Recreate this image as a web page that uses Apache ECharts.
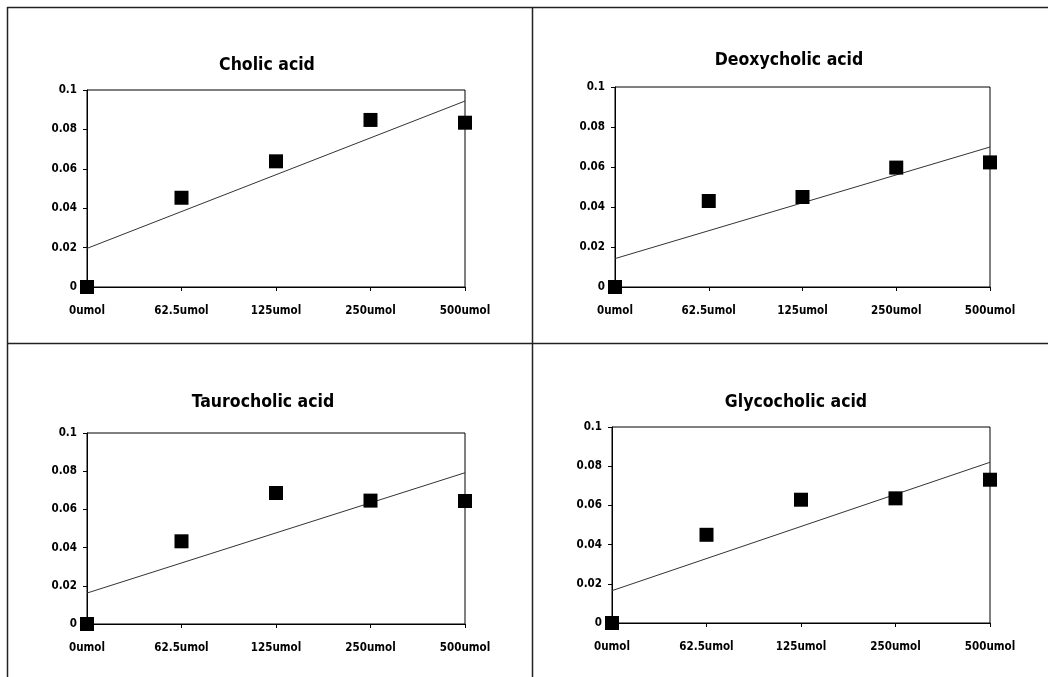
<!DOCTYPE html>
<html>
<head>
<meta charset="utf-8">
<script src="https://cdn.jsdelivr.net/npm/echarts@6/dist/echarts.min.js"></script>
<style>
html,body{margin:0;padding:0;background:#fff;}
#chart{width:1048px;height:677px;}
</style>
</head>
<body>
<div id="chart"></div>
<script>
// ---- data ----
const categories = ['0umol', '62.5umol', '125umol', '250umol', '500umol'];
const titles = ['Cholic acid', 'Deoxycholic acid', 'Taurocholic acid', 'Glycocholic acid'];
const cholic = [0, 0.0453, 0.0638, 0.0848, 0.0834];
const deoxycholic = [0, 0.043, 0.045, 0.0597, 0.0623];
const taurocholic = [0, 0.0433, 0.0686, 0.0646, 0.0644];
const glycocholic = [0, 0.045, 0.0629, 0.0636, 0.0731];
// trend line values at first and last category
const cholicTrend = [0.0196, 0.0944];
const deoxycholicTrend = [0.0142, 0.070];
const taurocholicTrend = [0.0162, 0.0792];
const glycocholicTrend = [0.0165, 0.082];
const yTicks = [0, 0.02, 0.04, 0.06, 0.08, 0.1];

const seriesValues = [cholic, deoxycholic, taurocholic, glycocholic];
const trends = [cholicTrend, deoxycholicTrend, taurocholicTrend, glycocholicTrend];

// ---- layout ----
const grids = [
  {left: 87, top: 90, width: 378, height: 197},
  {left: 615, top: 87, width: 375, height: 200},
  {left: 87, top: 433, width: 378, height: 191},
  {left: 612, top: 427, width: 378, height: 196}
];
const titlePos = [
  {x: 262, y: 51},
  {x: 784, y: 46},
  {x: 258, y: 388},
  {x: 791, y: 388}
];
const FONT = '"DejaVu Sans Condensed", "Liberation Sans Narrow", "DejaVu Sans", sans-serif';

const chart = echarts.init(document.getElementById('chart'), null, {renderer: 'canvas'});

const option = {
  backgroundColor: '#fff',
  animation: false,
  title: titles.map((t, i) => ({
    text: t,
    left: titlePos[i].x,
    top: titlePos[i].y,
    textAlign: 'center',
    textStyle: {fontFamily: FONT, fontWeight: 'bold', fontSize: 17.5, color: '#000'}
  })),
  grid: grids.map(g => Object.assign({show: true, borderColor: '#000', borderWidth: 1, backgroundColor: 'transparent'}, g)),
  xAxis: grids.map((g, i) => ({
    type: 'category',
    gridIndex: i,
    data: categories,
    boundaryGap: false,
    axisLine: {show: true, lineStyle: {color: '#000', width: 1}},
    axisTick: {show: true, length: 4, lineStyle: {color: '#000'}},
    axisLabel: {fontFamily: FONT, fontWeight: 'bold', fontSize: 11.5, color: '#000', margin: 18},
    splitLine: {show: false}
  })),
  yAxis: grids.map((g, i) => ({
    type: 'value',
    gridIndex: i,
    min: yTicks[0],
    max: yTicks[yTicks.length - 1],
    interval: 0.02,
    axisLine: {show: true, lineStyle: {color: '#000', width: 1}},
    axisTick: {show: true, length: 4, lineStyle: {color: '#000'}},
    axisLabel: {fontFamily: FONT, fontWeight: 'bold', fontSize: 11.5, color: '#000', margin: 10},
    splitLine: {show: false}
  })),
  series: [].concat(
    trends.map((tr, i) => ({
      type: 'line',
      xAxisIndex: i,
      yAxisIndex: i,
      data: [[categories[0], tr[0]], [categories[categories.length - 1], tr[1]]],
      symbol: 'none',
      lineStyle: {color: '#333', width: 1},
      z: 2
    })),
    seriesValues.map((vals, i) => ({
      type: 'scatter',
      xAxisIndex: i,
      yAxisIndex: i,
      data: vals.map((v, k) => [categories[k], v]),
      symbol: 'rect',
      symbolSize: 14,
      itemStyle: {color: '#000', opacity: 1},
      clip: false,
      z: 5
    }))
  ),
  graphic: [
    {type: 'line', shape: {x1: 7, y1: 7.5, x2: 1048, y2: 7.5}, style: {stroke: '#222', lineWidth: 1.5}},
    {type: 'line', shape: {x1: 7.5, y1: 7, x2: 7.5, y2: 677}, style: {stroke: '#222', lineWidth: 1.5}},
    {type: 'line', shape: {x1: 532.5, y1: 7, x2: 532.5, y2: 677}, style: {stroke: '#222', lineWidth: 1.5}},
    {type: 'line', shape: {x1: 7, y1: 343.5, x2: 1048, y2: 343.5}, style: {stroke: '#222', lineWidth: 1.5}}
  ]
};
chart.setOption(option);
</script>
</body>
</html>
